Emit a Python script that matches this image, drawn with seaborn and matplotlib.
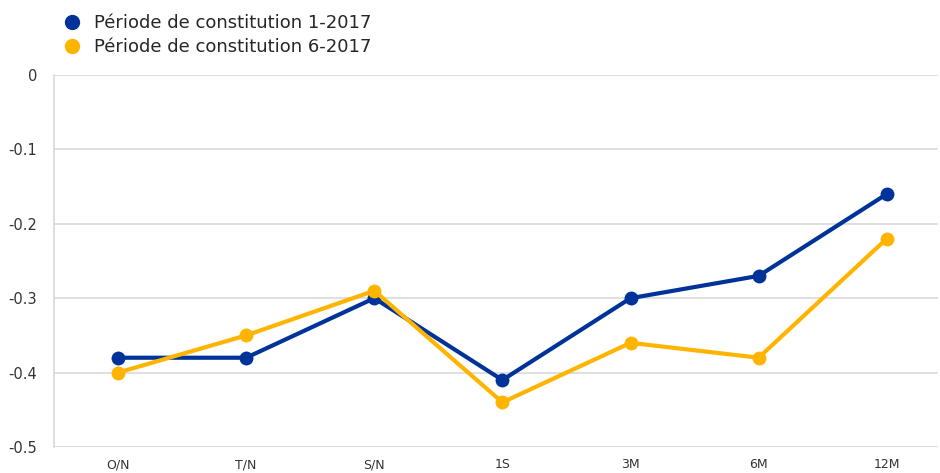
import pandas as pd
import matplotlib.pyplot as plt
import seaborn as sns
from matplotlib.lines import Line2D

# ─── données ────────────────────────────────────────────────────────────────
tenors = ['O/N', 'T/N', 'S/N', '1S', '3M', '6M', '12M']
serie_1 = [-0.38, -0.38, -0.30, -0.41, -0.30, -0.27, -0.16]
serie_6 = [-0.40, -0.35, -0.29, -0.44, -0.36, -0.38, -0.22]
labels = ['Période de constitution 1-2017', 'Période de constitution 6-2017']
colors = ['#003399', '#FFB400']

df = pd.concat([
    pd.DataFrame({'tenor': tenors, 'value': serie_1, 'serie': labels[0]}),
    pd.DataFrame({'tenor': tenors, 'value': serie_6, 'serie': labels[1]}),
])

sns.set_style('white')
plt.rcParams['font.family'] = ['DejaVu Sans']

fig = plt.figure(figsize=(9.4, 4.73), dpi=100)
ax = fig.add_axes([54 / 940, 1 - 447 / 473, (938 - 54) / 940, (447 - 75) / 473])

sns.lineplot(data=df, x='tenor', y='value', hue='serie', palette=colors,
             marker='o', markersize=10, markeredgewidth=0, linewidth=3,
             sort=False, legend=False, ax=ax)

ax.set_xlim(-0.5, 6.4)
ax.set_ylim(-0.5, 0)
ax.set_yticks([0, -0.1, -0.2, -0.3, -0.4, -0.5])
ax.set_yticklabels(['0', '-0.1', '-0.2', '-0.3', '-0.4', '-0.5'])
ax.yaxis.grid(True, color='#d9d9d9', linewidth=1.2)
ax.set_xlabel('')
ax.set_ylabel('')
for s in ['top', 'right', 'bottom']:
    ax.spines[s].set_visible(False)
ax.spines['left'].set_color('#d9d9d9')
ax.spines['left'].set_linewidth(1.2)
ax.tick_params(axis='y', length=0, labelsize=10.5, colors='#333333', pad=12)
ax.tick_params(axis='x', length=0, labelsize=9, colors='#333333', pad=8)
ax.axhline(-0.5, color='#d9d9d9', linewidth=1.2, zorder=0)

handles = [Line2D([], [], color=c, marker='o', linestyle='none', markersize=10)
           for c in colors]
fig.legend(handles, labels, loc='upper left', bbox_to_anchor=(0.048, 1.005),
           frameon=False, fontsize=13, handletextpad=0.6, labelspacing=0.35,
           handlelength=1.2)

plt.savefig('out.png', dpi=100)
